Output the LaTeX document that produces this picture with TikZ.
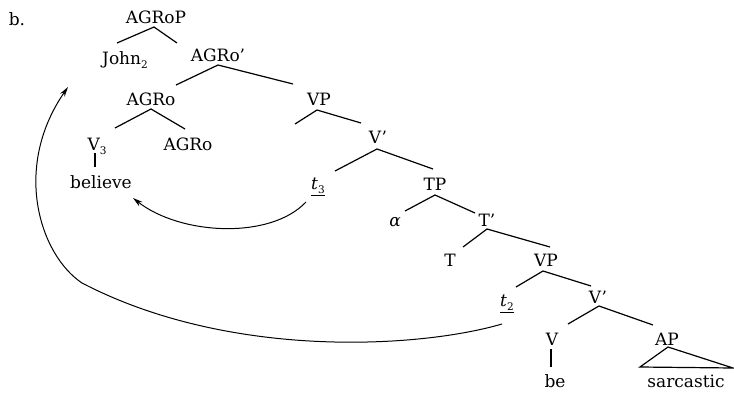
\documentclass[tikz,border=0pt]{standalone}
\usepackage{fontspec}
\setmainfont{DejaVu Serif}
\usetikzlibrary{arrows.meta}
% small lowered index, as on John_2, V_3, t_2, t_3
\newcommand{\lowidx}[1]{\raisebox{-0.28em}{\fontsize{10.5}{11}\selectfont #1}}
\begin{document}
\begin{tikzpicture}[x=1pt,y=-1pt,
  lbl/.style={anchor=base,inner sep=0pt,font=\fontsize{17}{21}\selectfont},
  br/.style={line width=1.2pt},
  mv/.style={line width=1pt,-{Stealth[length=10pt,width=5.5pt]}}]
\path[use as bounding box] (0,0) rectangle (734,394);

% labels
\node[lbl] (b)       at (17,25)   {b.};
\node[lbl] (agrop)   at (156,23)  {AGRoP};
\node[lbl] (john)    at (125,64)  {John\lowidx{2}};
\node[lbl] (agrobar) at (218,61)  {AGRo’};
\node[lbl] (agro1)   at (151,105) {AGRo};
\node[lbl] (vp1)     at (319,105) {VP};
\node[lbl] (v3)      at (97,150)  {V\lowidx{3}};
\node[lbl] (agro2)   at (188,150) {AGRo};
\node[lbl] (believe) at (101,188) {believe};
\node[lbl] (vbar1)   at (378,143) {V’};
\node[lbl] (t3)      at (318,189) {\underline{\textit{t}\lowidx{3}}};
\node[lbl] (tp)      at (435,190) {TP};
\node[lbl] (alpha)   at (395,226) {\textit{α}};
\node[lbl] (tbar)    at (487,226) {T’};
\node[lbl] (t)       at (450,266) {T};
\node[lbl] (vp2)     at (546,266) {VP};
\node[lbl] (t2)      at (507,306) {\underline{\textit{t}\lowidx{2}}};
\node[lbl] (vbar2)   at (598,303) {V’};
\node[lbl] (v)       at (552,345) {V};
\node[lbl] (ap)      at (667,345) {AP};
\node[lbl] (be)      at (555,387) {be};
\node[lbl] (sarc)    at (686,387) {sarcastic};

% empty specifier of the upper VP
\coordinate (vpspec) at (295,124);
% turning point of the long movement arrow
\coordinate (bend) at (82,283);

% branches
\draw[br] ([shift={(-8,-21)}]john.base) -- ([shift={(-2,4)}]agrop.base) -- ([shift={(-41,-18)}]agrobar.base);
\draw[br] ([shift={(25,-20)}]agro1.base) -- ([shift={(0,4)}]agrobar.base) -- ([shift={(-26,-21)}]vp1.base);
\draw[br] ([shift={(18,-22)}]v3.base) -- ([shift={(0,4)}]agro1.base) -- ([shift={(-3,-21)}]agro2.base);
\draw[br] ([shift={(-2,3)}]v3.base) -- ([shift={(-6,-21)}]believe.base);
\draw[br] (vpspec) -- ([shift={(-2,5)}]vp1.base) -- ([shift={(-17,-20)}]vbar1.base);
\draw[br] ([shift={(17,-18)}]t3.base) -- ([shift={(-1,6)}]vbar1.base) -- ([shift={(-2,-21)}]tp.base);
\draw[br] ([shift={(10,-15)}]alpha.base) -- ([shift={(0,5)}]tp.base) -- ([shift={(-12,-13)}]tbar.base);
\draw[br] ([shift={(13,-19)}]t.base) -- ([shift={(0,3)}]tbar.base) -- ([shift={(4,-19)}]vp2.base);
\draw[br] ([shift={(9,-19)}]t2.base) -- ([shift={(-3,5)}]vp2.base) -- ([shift={(-7,-17)}]vbar2.base);
\draw[br] ([shift={(16,-21)}]v.base) -- ([shift={(1,3)}]vbar2.base) -- ([shift={(-14,-20)}]ap.base);
\draw[br] ([shift={(-1,4)}]v.base) -- ([shift={(-4,-20)}]be.base);
\draw[br] ([shift={(1,2)}]ap.base) -- ([shift={(-46,-20)}]sarc.base) -- ([shift={(47,-19)}]sarc.base) -- cycle;

% movement arrows
\draw[mv] ([shift={(-12,13)}]t3.base) .. controls +(-36,38) and +(47,37) .. ([shift={(32,10)}]believe.base);
\draw[mv] ([shift={(-5,18)}]t2.base) .. controls +(-82,24) and +(148,77) .. (bend)
          .. controls +(-42,-28) and +(-56,81) .. ([shift={(-57,23)}]john.base);
\end{tikzpicture}
\end{document}
